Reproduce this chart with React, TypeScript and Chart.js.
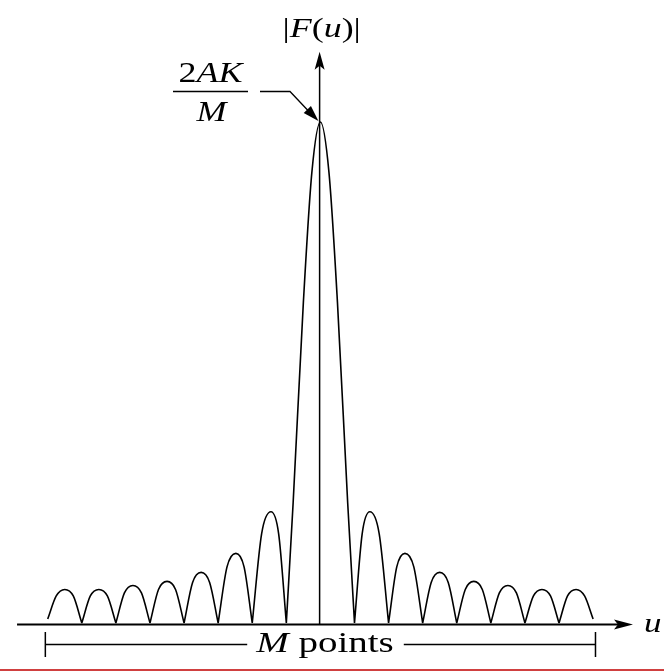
import React, { useEffect, useRef } from "react";
import { Chart, registerables } from "chart.js";

Chart.register(...registerables);

// ---- data (u in units of one zero-crossing spacing, |F(u)| normalised to the peak 2AK/M) ----
const mainLobeU = [-1, -0.8, -0.5, -0.25, 0, 0.25, 0.5, 0.8, 1];
const mainLobeValues = [0, 0.24, 0.64, 0.9, 1, 0.9, 0.64, 0.24, 0];

const leftZeros = [-8, -7, -6, -5, -4, -3, -2, -1];
const leftPeakU = [-7.5, -6.5, -5.5, -4.5, -3.5, -2.48, -1.45];
const leftPeaks = [0.067, 0.067, 0.075, 0.083, 0.101, 0.139, 0.222];
const leftShoulders = [0.054, 0.054, 0.06, 0.067, 0.081, 0.112, 0.178];

const rightZeros = [1, 2, 3, 4, 5, 6, 7, 8];
const rightPeakU = [1.45, 2.48, 3.5, 4.5, 5.5, 6.5, 7.5];
const rightPeaks = [0.222, 0.139, 0.101, 0.083, 0.075, 0.067, 0.067];
const rightShoulders = [0.178, 0.112, 0.081, 0.067, 0.06, 0.054, 0.054];

const outerEndValue = 0.008;

const xAxisRange = [-8.9, 9.17];
const yAxisTop = 1.14;
const mPointsRange = [-8.07, 8.07];

const yLabel = [
  { t: "|", i: false },
  { t: "F", i: true },
  { t: "(", i: false },
  { t: "u", i: true },
  { t: ")", i: false },
  { t: "|", i: false },
];
const peakNumerator = [
  { t: "2", i: false },
  { t: "AK", i: true },
];
const peakDenominator = [{ t: "M", i: true }];
const spanLabel = [
  { t: "M", i: true },
  { t: " points", i: false },
];
const xLabel = [{ t: "u", i: true }];

type Part = { t: string; i: boolean };
type Pt = { x: number; y: number | null };

function buildLobes(zeros: number[], peakU: number[], peaks: number[], shoulders: number[], outerLeft: boolean): Pt[] {
  const pts: Pt[] = [];
  for (let k = 0; k < peaks.length; k++) {
    const z0 = zeros[k];
    const z1 = zeros[k + 1];
    const p = peakU[k];
    const startV = outerLeft && k === 0 ? outerEndValue : 0;
    const endV = !outerLeft && k === peaks.length - 1 ? outerEndValue : 0;
    pts.push({ x: z0, y: startV });
    pts.push({ x: (z0 + p) / 2, y: shoulders[k] });
    pts.push({ x: p, y: peaks[k] });
    pts.push({ x: (p + z1) / 2, y: shoulders[k] });
    pts.push({ x: z1, y: endV });
    pts.push({ x: z1, y: null });
  }
  return pts;
}

const FONT = '"Liberation Serif", "DejaVu Serif", serif';

function drawParts(ctx: CanvasRenderingContext2D, parts: Part[], cx: number, baseline: number, size: number, sx: number, align: "center" | "left" = "center") {
  const fontFor = (p: Part) => `${p.i ? "italic " : ""}${size}px ${FONT}`;
  let total = 0;
  const widths = parts.map((p) => {
    ctx.font = fontFor(p);
    const w = ctx.measureText(p.t).width;
    total += w;
    return w;
  });
  ctx.save();
  ctx.translate(cx, baseline);
  ctx.scale(sx, 1);
  ctx.textBaseline = "alphabetic";
  ctx.textAlign = "left";
  let x = align === "center" ? -total / 2 : 0;
  parts.forEach((p, k) => {
    ctx.font = fontFor(p);
    ctx.fillText(p.t, x, 0);
    x += widths[k];
  });
  ctx.restore();
  return total * sx;
}

const overlayPlugin = {
  id: "overlay",
  beforeDraw(chart: any) {
    const { ctx, width, height } = chart;
    ctx.save();
    ctx.fillStyle = "#ffffff";
    ctx.fillRect(0, 0, width, height);
    ctx.restore();
  },
  afterDatasetsDraw(chart: any) {
    const { ctx, width, height } = chart;
    const xs = chart.scales.x;
    const ys = chart.scales.y;
    const X = (u: number) => xs.getPixelForValue(u);
    const Y = (v: number) => ys.getPixelForValue(v);
    ctx.save();
    ctx.strokeStyle = "#000";
    ctx.fillStyle = "#000";

    // horizontal axis with arrow
    const y0 = Y(0) + 1.5;
    const xTip = X(xAxisRange[1]);
    ctx.lineWidth = 2;
    ctx.beginPath();
    ctx.moveTo(X(xAxisRange[0]), y0);
    ctx.lineTo(xTip - 10, y0);
    ctx.stroke();
    ctx.beginPath();
    ctx.moveTo(xTip, y0);
    ctx.lineTo(xTip - 19, y0 - 5);
    ctx.lineTo(xTip - 15, y0);
    ctx.lineTo(xTip - 19, y0 + 5);
    ctx.closePath();
    ctx.fill();

    // vertical axis with arrow
    const x0 = X(0) - 0.8;
    const yTip = Y(yAxisTop);
    ctx.lineWidth = 1.5;
    ctx.beginPath();
    ctx.moveTo(x0, y0);
    ctx.lineTo(x0, yTip + 10);
    ctx.stroke();
    ctx.beginPath();
    ctx.moveTo(x0, yTip);
    ctx.lineTo(x0 - 5, yTip + 18);
    ctx.lineTo(x0, yTip + 14);
    ctx.lineTo(x0 + 5, yTip + 18);
    ctx.closePath();
    ctx.fill();

    // axis labels
    drawParts(ctx, yLabel, X(0) + 1.3, 37, 27, 1.33);
    drawParts(ctx, xLabel, xTip + 11, 632, 28, 1.25, "left");

    // peak label 2AK / M with leader arrow
    const peakX = X(0);
    const peakY = Y(1);
    const fracCx = 210.5;
    drawParts(ctx, peakNumerator, fracCx, 82, 30, 1.2);
    drawParts(ctx, peakDenominator, fracCx + 1, 121, 30, 1.2);
    ctx.lineWidth = 1.6;
    ctx.beginPath();
    ctx.moveTo(173, 91.5);
    ctx.lineTo(248, 91.5);
    ctx.stroke();
    const tipX = peakX - 2;
    const tipY = peakY - 1;
    ctx.lineWidth = 1.3;
    ctx.beginPath();
    ctx.moveTo(260, 91.5);
    ctx.lineTo(290, 91.5);
    ctx.lineTo(tipX - 9, tipY - 9);
    ctx.stroke();
    const ang = Math.atan2(tipY - 91.5, tipX - 290);
    const L = 16;
    const W = 5;
    const bx = tipX - L * Math.cos(ang);
    const by = tipY - L * Math.sin(ang);
    ctx.beginPath();
    ctx.moveTo(tipX, tipY);
    ctx.lineTo(bx + W * Math.sin(ang), by - W * Math.cos(ang));
    ctx.lineTo(bx - W * Math.sin(ang), by + W * Math.cos(ang));
    ctx.closePath();
    ctx.fill();

    // M points span
    const spanY = 644.5;
    const left = X(mPointsRange[0]);
    const right = X(mPointsRange[1]);
    const textCx = 325;
    const w = drawParts(ctx, spanLabel, textCx, 652, 30, 1.3);
    ctx.lineWidth = 1.5;
    ctx.beginPath();
    ctx.moveTo(left, spanY);
    ctx.lineTo(textCx - w / 2 - 9, spanY);
    ctx.moveTo(textCx + w / 2 + 10, spanY);
    ctx.lineTo(right, spanY);
    ctx.moveTo(left, 632);
    ctx.lineTo(left, 657);
    ctx.moveTo(right, 632);
    ctx.lineTo(right, 657);
    ctx.stroke();

    // red rule at the bottom of the picture
    ctx.strokeStyle = "#c00000";
    ctx.lineWidth = 1.5;
    ctx.beginPath();
    ctx.moveTo(0, height - 1);
    ctx.lineTo(width, height - 1);
    ctx.stroke();

    ctx.restore();
  },
};

export default function App() {
  const canvasRef = useRef<HTMLCanvasElement | null>(null);

  useEffect(() => {
    if (!canvasRef.current) return;
    const mainPts: Pt[] = mainLobeU.map((u, k) => ({ x: u, y: mainLobeValues[k] }));
    const data: Pt[] = [
      ...buildLobes(leftZeros, leftPeakU, leftPeaks, leftShoulders, true),
      ...mainPts,
      { x: 1, y: null },
      ...buildLobes(rightZeros, rightPeakU, rightPeaks, rightShoulders, false),
    ];
    const chart = new Chart(canvasRef.current, {
      type: "line",
      data: {
        datasets: [
          {
            data: data as any,
            borderColor: "#000000",
            borderWidth: 1.6,
            pointRadius: 0,
            fill: false,
            spanGaps: false,
            cubicInterpolationMode: "monotone",
          },
        ],
      },
      options: {
        animation: false,
        responsive: false,
        devicePixelRatio: 1,
        layout: { padding: 0 },
        scales: {
          x: { type: "linear", min: -9.4, max: 10.08, display: false },
          y: { type: "linear", min: -0.0958, max: 1.2435, display: false },
        },
        plugins: {
          legend: { display: false },
          tooltip: { enabled: false },
          title: { display: false },
        },
      },
      plugins: [overlayPlugin],
    });
    return () => chart.destroy();
  }, []);

  return (
    <div style={{ position: "fixed", left: 0, top: 0, width: 664, height: 671, background: "#fff" }}>
      <canvas ref={canvasRef} width={664} height={671} style={{ display: "block", width: 664, height: 671 }} />
    </div>
  );
}
